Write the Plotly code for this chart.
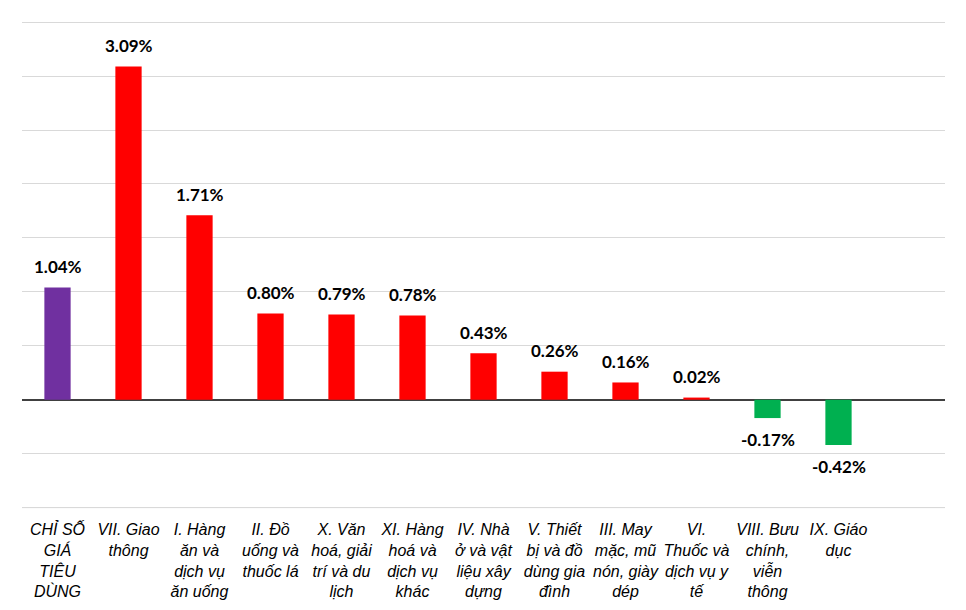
import plotly.graph_objects as go

categories = [
    "CHỈ SỐ<br>GIÁ<br>TIÊU<br>DÙNG",
    "VII. Giao<br>thông",
    "I. Hàng<br>ăn và<br>dịch vụ<br>ăn uống",
    "II. Đồ<br>uống và<br>thuốc lá",
    "X. Văn<br>hoá, giải<br>trí và du<br>lịch",
    "XI. Hàng<br>hoá và<br>dịch vụ<br>khác",
    "IV. Nhà<br>ở và vật<br>liệu xây<br>dựng",
    "V. Thiết<br>bị và đồ<br>dùng gia<br>đình",
    "III. May<br>mặc, mũ<br>nón, giày<br>dép",
    "VI.<br>Thuốc và<br>dịch vụ y<br>tế",
    "VIII. Bưu<br>chính,<br>viễn<br>thông",
    "IX. Giáo<br>dục",
    " ",
]
values = [1.04, 3.09, 1.71, 0.80, 0.79, 0.78, 0.43, 0.26, 0.16, 0.02, -0.17, -0.42, None]
value_labels = ["1.04%", "3.09%", "1.71%", "0.80%", "0.79%", "0.78%", "0.43%",
                "0.26%", "0.16%", "0.02%", "-0.17%", "-0.42%", ""]
y_min = -1.0
y_max = 3.5

colors = []
for i, v in enumerate(values):
    if i == 0:
        colors.append("#7030A0")
    elif v is not None and v < 0:
        colors.append("#00B050")
    else:
        colors.append("#FF0000")

fig = go.Figure()
fig.add_trace(go.Bar(
    x=categories, y=values, marker=dict(color=colors, line=dict(width=0)),
    hoverinfo="skip",
))

annotations = []
for c, v, t in zip(categories, values, value_labels):
    if v is None:
        continue
    annotations.append(dict(
        x=c, y=v, text="<b>" + t + "</b>", showarrow=False,
        yshift=21 if v >= 0 else -21,
        font=dict(family="Lato, Open Sans, sans-serif", size=17, color="black"),
    ))

fig.add_shape(type="line", xref="paper", yref="y", x0=0, x1=1, y0=y_min, y1=y_min,
              line=dict(color="#D9D9D9", width=1), layer="below")

fig.update_layout(
    width=958, height=602,
    margin=dict(l=14, r=21, t=12, b=97),
    paper_bgcolor="white", plot_bgcolor="white",
    showlegend=False,
    bargap=0.63,
    annotations=annotations,
    xaxis=dict(
        showgrid=False, showline=False, zeroline=False, ticks="",
        tickfont=dict(family="Liberation Sans, Arial, sans-serif", size=16,
                      color="black", style="italic"),
        tickangle=0, ticklabelstandoff=5, automargin=False,
    ),
    yaxis=dict(
        range=[y_min - 0.05, y_max + 0.02], dtick=0.5, tick0=0, showticklabels=False,
        showgrid=True, gridcolor="#D9D9D9", gridwidth=1,
        zeroline=True, zerolinecolor="#404040", zerolinewidth=2,
        showline=False, ticks="", automargin=False,
    ),
)

fig.write_html("out.html")
